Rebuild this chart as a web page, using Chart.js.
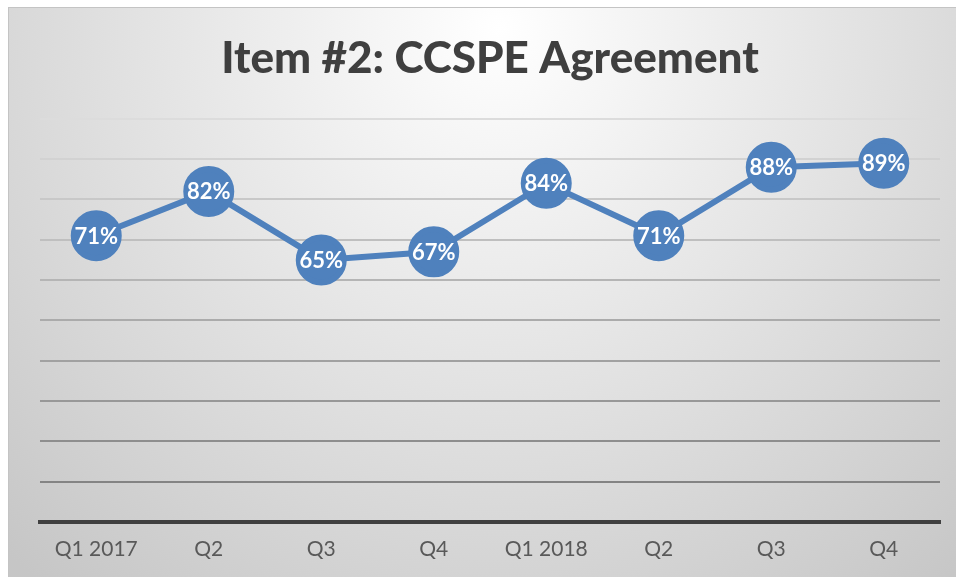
<!DOCTYPE html>
<html>
<head>
<meta charset="utf-8">
<script src="https://cdn.jsdelivr.net/npm/chart.js@4/dist/chart.umd.min.js"></script>
<style>
  html, body { margin: 0; padding: 0; background: #fff; overflow: hidden; }
  #wrap {
    position: absolute; left: 8px; top: 7px; width: 948px; height: 570px;
    border-top: 1px solid #c4c4c4; border-left: 1px solid #c4c4c4;
  }
</style>
</head>
<body>
<div id="wrap"><canvas id="chart" width="948" height="570"></canvas></div>
<script>
const chartTitle = "Item #2: CCSPE Agreement";
const quarters = ["Q1 2017", "Q2", "Q3", "Q4", "Q1 2018", "Q2", "Q3", "Q4"];
const agreement = [71, 82, 65, 67, 84, 71, 88, 89];

const blue = "#4f81bd";
const fontFamily = "Lato, 'Open Sans', sans-serif";

// radial grey backdrop like the office chart style
const backdrop = {
  id: "backdrop",
  beforeDraw(chart) {
    const { ctx, width, height } = chart;
    const g = ctx.createRadialGradient(490, 20, 0, 490, 20, 720);
    g.addColorStop(0, "#ffffff");
    g.addColorStop(1, "#c6c6c6");
    ctx.save();
    ctx.fillStyle = g;
    ctx.fillRect(0, 0, width, height);
    ctx.restore();
  }
};

// white percent labels inside the markers
const pointLabels = {
  id: "pointLabels",
  afterDatasetsDraw(chart) {
    const ctx = chart.ctx;
    const meta = chart.getDatasetMeta(0);
    ctx.save();
    ctx.fillStyle = "#ffffff";
    ctx.font = "bold 22px " + fontFamily;
    ctx.textAlign = "center";
    ctx.textBaseline = "middle";
    meta.data.forEach((pt, i) => {
      ctx.fillText(agreement[i] + "%", pt.x, pt.y + 1);
    });
    ctx.restore();
  }
};

function gridShade(v) {
  // lines get darker toward the bottom
  const t = (v - 10) / 90;
  const c = Math.round(0x84 + t * (0xdc - 0x84));
  return "rgb(" + c + "," + c + "," + c + ")";
}

new Chart(document.getElementById("chart"), {
  type: "line",
  data: {
    labels: quarters,
    datasets: [{
      data: agreement,
      borderColor: blue,
      borderWidth: 6,
      backgroundColor: blue,
      pointBackgroundColor: blue,
      pointBorderColor: blue,
      pointRadius: 22.5,
      pointHoverRadius: 22.5,
      tension: 0
    }]
  },
  plugins: [backdrop, pointLabels],
  options: {
    responsive: false,
    animation: false,
    layout: { autoPadding: false, padding: { left: 31, right: 17, top: 0, bottom: 0 } },
    plugins: {
      legend: { display: false },
      tooltip: { enabled: false },
      title: {
        display: true,
        text: chartTitle,
        color: "#3f3f3f",
        font: { family: fontFamily, size: 44, weight: "900", lineHeight: 1.2 },
        padding: { top: 24, bottom: 34 }
      }
    },
    scales: {
      x: {
        offset: true,
        grid: { display: false, drawTicks: false },
        border: { display: true, color: "#404040", width: 4 },
        ticks: {
          color: "#595959",
          font: { family: fontFamily, size: 21 },
          padding: 15,
          maxRotation: 0
        },
        afterFit(scale) { scale.height = 56; }
      },
      y: {
        min: 0,
        max: 100,
        ticks: { display: false, stepSize: 10 },
        border: { display: false },
        grid: {
          drawTicks: false,
          lineWidth: 2,
          color: (c) => c.tick && c.tick.value === 0 ? "rgba(0,0,0,0)" : gridShade(c.tick ? c.tick.value : 50)
        },
        afterFit(scale) { scale.width = 0; }
      }
    }
  }
});
</script>
</body>
</html>
